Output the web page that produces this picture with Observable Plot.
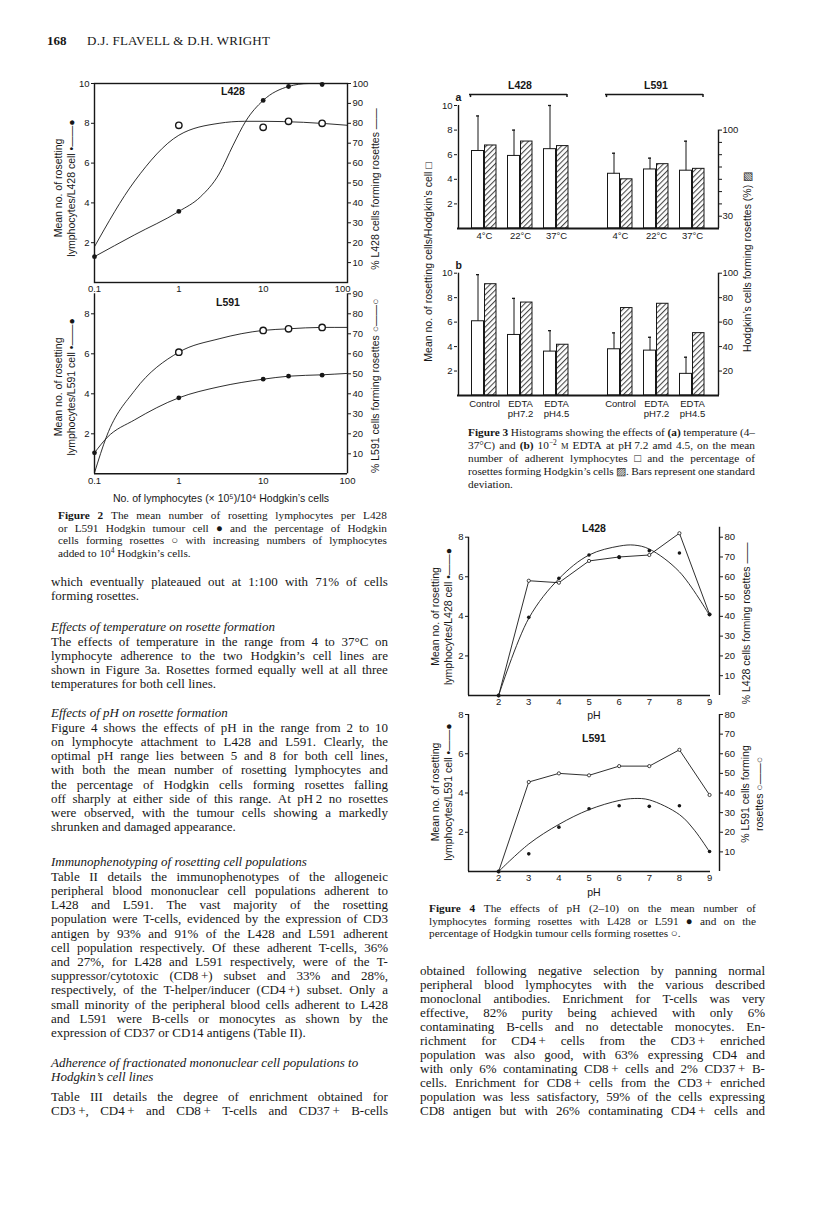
<!DOCTYPE html>
<html>
<head>
<meta charset="utf-8">
<script src="https://cdn.jsdelivr.net/npm/d3@7"></script>
<script src="https://cdn.jsdelivr.net/npm/@observablehq/plot@0.6"></script>
<style>
  html, body { margin: 0; padding: 0; background: #fff; }
  #page { position: relative; width: 816px; height: 1207px; overflow: hidden; background: #fff;
          font-family: "Liberation Serif", "Times New Roman", serif; color: #171717; }
  #page sup { font-size: 0.66em; line-height: 0; vertical-align: 0.5em; }
  #page small { font-size: 0.75em; }
</style>
</head>
<body>
<div id="page"></div>
<script>
// ================= DATA =================
// Figure 2 – lymphocytes (x10^5) per 10^4 Hodgkin's cells, log axis
const fig2XDomain = [0.1, 100];
const fig2XTicks = [0.1, 1, 10, 100];
const fig2MeanX = [0.1, 1, 10, 20, 50];
const fig2PctX = [1, 10, 20, 50];
// L428
const fig2L428Mean = [1.3, 3.57, 9.15, 9.85, 9.95];
const fig2L428Pct = [79, 78, 81, 80];
const fig2L428MeanFitX = [0.1, 0.3, 1, 1.8, 3, 4.4, 6.2, 10, 20, 35, 100];
const fig2L428MeanFit  = [1.3, 2.4, 3.57, 4.3, 5.45, 6.9, 8.1, 9.15, 9.85, 10, 10];
const fig2L428PctFitX = [0.1, 0.3, 1, 3, 6, 10, 30, 100];
const fig2L428PctFit  = [18, 51, 74, 80, 81, 81, 80.5, 79];
// L591
const fig2L591Mean = [1.05, 3.8, 4.73, 4.88, 4.93];
const fig2L591Pct = [60.8, 71.7, 72.5, 73.2];
const fig2L591MeanFitX = [0.1, 0.14, 0.3, 1, 3, 10, 20, 50, 100];
const fig2L591MeanFit  = [1.05, 1.8, 2.7, 3.8, 4.35, 4.73, 4.88, 4.95, 5.02];
const fig2L591PctFitX = [0.1, 0.14, 0.3, 1, 3, 10, 20, 50, 100];
const fig2L591PctFit  = [0.5, 19, 41.7, 60.8, 67.5, 71.7, 72.5, 73.2, 73.2];

// Figure 3 – histograms
const fig3Lines = ["L428", "L591"];
const fig3aConds = ["4°C", "22°C", "37°C"];
const fig3aMean = [6.3, 5.9, 6.45, 4.45, 4.8, 4.7];
const fig3aSD   = [2.85, 2.1, 3.55, 1.67, 0.92, 2.4];
const fig3aPct  = [87.5, 90.7, 87, 60, 72.3, 68.5];
const fig3bConds = ["Control", "EDTA pH7.2", "EDTA pH4.5"];
const fig3bMean = [6.07, 4.95, 3.59, 3.78, 3.67, 1.77];
const fig3bSD   = [3.81, 2.99, 1.71, 1.34, 1.09, 1.36];
const fig3bPct  = [91, 76, 41.5, 71.5, 75, 51];

// Figure 4 – pH
const fig4XDomain = [1, 9.33];
const fig4pH = [2, 3, 4, 5, 6, 7, 8, 9];
const fig4L428Mean = [0, 3.95, 5.92, 7.1, 6.98, 7.32, 7.2, 4.09];
const fig4L428Pct  = [0, 58, 57, 68, 70, 71, 82, 41];
const fig4L428FitpH = [2, 3, 4, 5, 6, 6.5, 7, 8, 9];
const fig4L428Fit   = [0, 3.9, 5.9, 7.1, 7.55, 7.6, 7.4, 6.25, 4.05];
const fig4L591Mean = [0, 0.9, 2.26, 3.2, 3.35, 3.32, 3.35, 1.02];
const fig4L591Pct  = [0, 45.6, 50, 49, 53.7, 53.7, 62, 39];
const fig4L591FitpH = [2, 3, 4, 5, 6, 6.5, 7, 8, 8.5, 9];
const fig4L591Fit   = [0, 1.4, 2.4, 3.15, 3.62, 3.72, 3.65, 2.9, 2.1, 1.0];

// ================= HELPERS =================
const INK = "#171717";
const SANS = "'Liberation Sans', Arial, Helvetica, sans-serif";
const plotStyle = {fontFamily: SANS, fontSize: "9.5px", color: INK, background: "transparent", overflow: "visible"};
const page = document.getElementById("page");
const zip = (xs, ys) => xs.map((x, i) => ({x, y: ys[i]}));
const MID = {textAnchor: "middle", lineAnchor: "middle"};

function place(svg, left, top) {
  const d = document.createElement("div");
  d.style.cssText = `position:absolute;left:${left}px;top:${top}px;width:${svg.getAttribute("width")}px;`;
  d.appendChild(svg);
  page.appendChild(d);
}
function addHatch(svg, id) {
  const defs = document.createElementNS("http://www.w3.org/2000/svg", "defs");
  defs.innerHTML = `<pattern id="${id}" patternUnits="userSpaceOnUse" width="3.8" height="3.8" patternTransform="rotate(45)"><rect width="3.8" height="3.8" fill="#fff"/><line x1="0.6" y1="0" x2="0.6" y2="3.8" stroke="${INK}" stroke-width="0.85"/></pattern>`;
  svg.insertBefore(defs, svg.firstChild);
}
function line(x, yc, w, fs, html, justify, extra = "") {
  const d = document.createElement("div");
  const lh = fs * 1.2;
  d.style.cssText = `position:absolute;left:${x}px;top:${(yc - 0.71 * fs).toFixed(1)}px;width:${w}px;height:${lh}px;line-height:${lh}px;font-size:${fs}px;white-space:nowrap;${extra}`;
  if (justify) {
    d.style.display = "flex";
    d.style.justifyContent = "space-between";
    d.innerHTML = html.split(" ").filter(s => s).map(t => `<span>${t}</span>`).join("");
  } else d.innerHTML = html;
  page.appendChild(d);
}
function block(x, w, fs, spec) { spec.forEach(([y, html, j]) => line(x, y, w, fs, html, j)); }
function vlabel(cx, cy, html, fs) {
  const d = document.createElement("div");
  d.style.cssText = `position:absolute;left:${cx}px;top:${cy}px;transform:translate(-50%,-50%) rotate(-90deg);white-space:nowrap;font-family:${SANS};font-size:${fs}px;line-height:1;color:${INK};`;
  d.innerHTML = html;
  page.appendChild(d);
}

// ================= HEADER =================
line(47, 42, 60, 13, "<b>168</b>", false);
line(87, 42, 260, 13, "D.J. FLAVELL &amp; D.H. WRIGHT", false, "letter-spacing:0.25px;");

// ================= FIGURE 2 =================
const f2a = Plot.plot({
  width: 350, height: 225, marginLeft: 54, marginRight: 43, marginTop: 13, marginBottom: 13,
  style: plotStyle,
  x: {type: "log", domain: fig2XDomain},
  y: {domain: [0, 10]},
  marks: [
    Plot.frame({stroke: INK, strokeWidth: 1.4}),
    Plot.axisY({ticks: [2, 4, 6, 8, 10], tickSize: 3, tickPadding: 2, label: null}),
    Plot.axisY({anchor: "right", ticks: d3.range(1, 11), tickFormat: d => d * 10, tickSize: 3, tickPadding: 2, label: null}),
    Plot.axisX({ticks: fig2XTicks.slice(0, 3), tickFormat: d => String(d), tickSize: 0, tickPadding: 3, label: null}),
    Plot.axisX({ticks: fig2XTicks.slice(3), tickFormat: d => String(d), tickSize: 0, tickPadding: 3, textAnchor: "end", dx: 3, label: null}),
    Plot.line(zip(fig2L428MeanFitX, fig2L428MeanFit), {x: "x", y: "y", curve: "monotone-x", stroke: INK, strokeWidth: 0.9}),
    Plot.line(zip(fig2L428PctFitX, fig2L428PctFit), {x: "x", y: d => d.y / 10, curve: "monotone-x", stroke: INK, strokeWidth: 0.9}),
    Plot.dot(zip(fig2MeanX, fig2L428Mean), {x: "x", y: "y", r: 2.4, fill: INK}),
    Plot.dot(zip(fig2PctX, fig2L428Pct), {x: "x", y: d => d.y / 10, r: 3.2, fill: "white", stroke: INK, strokeWidth: 1.4}),
    Plot.text(["L428"], {...MID, frameAnchor: "top", dx: 12, dy: 8, fontSize: 10.5, fontWeight: "bold"}),
    Plot.text(["Mean no. of rosetting\nlymphocytes/L428 cell •——●"], {...MID, frameAnchor: "left", rotate: -90, dx: -30, dy: 5, fontSize: 10.5, lineHeight: 1.2}),
    Plot.text(["% L428 cells forming rosettes ——"], {...MID, frameAnchor: "right", rotate: -90, dx: 28, dy: 6, fontSize: 10.5})
  ]
});
place(f2a, 40, 70);

const f2b = Plot.plot({
  width: 350, height: 230, marginLeft: 54, marginRight: 43, marginTop: 8.3, marginBottom: 41.7,
  style: plotStyle,
  x: {type: "log", domain: fig2XDomain},
  y: {domain: [0, 9]},
  marks: [
    Plot.ruleX(fig2XDomain, {stroke: INK, strokeWidth: 1.4}),
    Plot.ruleY([0], {stroke: INK, strokeWidth: 1.4}),
    Plot.axisY({ticks: [2, 4, 6, 8], tickSize: 3, tickPadding: 2, label: null}),
    Plot.axisY({anchor: "right", ticks: d3.range(1, 10), tickFormat: d => d * 10, tickSize: 3, tickPadding: 2, label: null}),
    Plot.axisX({ticks: fig2XTicks, tickFormat: d => String(d), tickSize: 0, tickPadding: 3, label: null}),
    Plot.line(zip(fig2L591MeanFitX, fig2L591MeanFit), {x: "x", y: "y", curve: "monotone-x", stroke: INK, strokeWidth: 0.9}),
    Plot.line(zip(fig2L591PctFitX, fig2L591PctFit), {x: "x", y: d => d.y / 10, curve: "monotone-x", stroke: INK, strokeWidth: 0.9}),
    Plot.dot(zip(fig2MeanX, fig2L591Mean), {x: "x", y: "y", r: 2.4, fill: INK}),
    Plot.dot(zip(fig2PctX, fig2L591Pct), {x: "x", y: d => d.y / 10, r: 3.2, fill: "white", stroke: INK, strokeWidth: 1.4}),
    Plot.text(["L591"], {...MID, frameAnchor: "top", dx: 7, dy: 9, fontSize: 10.5, fontWeight: "bold"}),
    Plot.text(["No. of lymphocytes (× 10⁵)/10⁴ Hodgkin’s cells"], {...MID, frameAnchor: "bottom", dy: 25, fontSize: 10.5}),
    Plot.text(["Mean no. of rosetting\nlymphocytes/L591 cell •——●"], {...MID, frameAnchor: "left", rotate: -90, dx: -30, dy: 3, fontSize: 10.5, lineHeight: 1.2}),
    Plot.text(["% L591 cells forming rosettes ○——○"], {...MID, frameAnchor: "right", rotate: -90, dx: 28, dy: 2, fontSize: 10.5})
  ]
});
place(f2b, 40, 285);

block(58, 329, 11.3, [
  [517, "<b>Figure</b> <b>2</b> The mean number of rosetting lymphocytes per L428", true],
  [529.5, "or L591 Hodgkin tumour cell ● and the percentage of Hodgkin", true],
  [542, "cells forming rosettes ○ with increasing numbers of lymphocytes", true],
  [554.5, "added to 10<sup>4</sup> Hodgkin’s cells.", false]
]);

// ================= FIGURE 3 =================
function rowsOf(conds, mean, sd, pct) {
  return fig3Lines.flatMap((ln, li) => conds.map((cond, ci) => {
    const i = li * conds.length + ci;
    return {line: ln, cond, mean: mean[i], sd: sd[i], pct: pct[i]};
  }));
}
function fig3Panel(o) {
  const rows = rowsOf(o.conds, o.mean, o.sd, o.pct);
  const svg = Plot.plot({
    width: 350, height: o.height, marginLeft: 46, marginRight: 41, marginTop: o.mt, marginBottom: o.mb,
    style: plotStyle,
    fx: {domain: fig3Lines, paddingInner: 0.08, paddingOuter: 0, axis: null, label: null},
    x: {domain: o.conds, paddingInner: 0, paddingOuter: 0.2},
    y: {domain: [0, 10]},
    marks: [
      Plot.barY(rows, {fx: "line", x: "cond", y: "mean", fill: "white", stroke: INK, strokeWidth: 1, insetLeft: 5.5, insetRight: 18.5}),
      Plot.barY(rows, {fx: "line", x: "cond", y: d => o.pctToY(d.pct), fill: `url(#${o.hatch})`, stroke: INK, strokeWidth: 1, insetLeft: 18.5, insetRight: 6}),
      Plot.ruleX(rows, {fx: "line", x: "cond", y1: "mean", y2: d => d.mean + d.sd, dx: -6.5, stroke: INK, strokeWidth: 1}),
      Plot.tickY(rows, {fx: "line", x: "cond", y: d => d.mean + d.sd, insetLeft: 10, insetRight: 23, stroke: INK, strokeWidth: 1.3}),
      Plot.ruleY([{line: "L428"}], {fx: "line", y: () => 0, insetRight: -137, stroke: INK, strokeWidth: 1.8}),
      Plot.ruleX([{line: "L428", cond: o.conds[0]}], {fx: "line", x: "cond", y1: () => 0, y2: () => 10, dx: -26, stroke: INK, strokeWidth: 1.4}),
      Plot.ruleX([{line: "L591", cond: o.conds[2]}], {fx: "line", x: "cond", y1: () => 0, y2: () => o.rightTop, dx: 26, stroke: INK, strokeWidth: 1.4}),
      Plot.axisY({ticks: [2, 4, 6, 8, 10], tickSize: 3, tickPadding: 2, label: null}),
      Plot.axisY({anchor: "right", ticks: o.rightTicks, tickFormat: o.rightFormat, tickSize: 3, tickPadding: 1, label: null}),
      Plot.axisX({tickSize: 0, tickPadding: o.tickPad, tickFormat: d => d.replace(" ", "\n"), label: null, lineHeight: 1.05}),
      Plot.text([{line: "L428"}], {fx: "line", text: () => o.letter, frameAnchor: "top-left", textAnchor: "start", lineAnchor: "middle", dy: o.letterDy, dx: -2, fontSize: 10.5, fontWeight: "bold"}),
      ...o.extra(o.conds)
    ]
  });
  addHatch(svg, o.hatch);
  return svg;
}
const bracketRows = conds => fig3Lines.flatMap(l => [{line: l, cond: conds[0], off: -14}, {line: l, cond: conds[2], off: 10.5}]);
const f3a = fig3Panel({
  conds: fig3aConds, mean: fig3aMean, sd: fig3aSD, pct: fig3aPct,
  pctToY: p => (p - 20) / 10, rightTicks: d3.range(1, 9), rightFormat: d => d === 1 ? "30" : d === 8 ? "100" : "",
  rightTop: 8, height: 180, mt: 35, mb: 22, tickPad: 3, letter: "a", letterDy: -7.5, hatch: "hatchA",
  extra: conds => [
    Plot.text(fig3Lines, {...MID, fx: d => d, text: d => d, frameAnchor: "top", dy: -20, fontSize: 10.5, fontWeight: "bold"}),
    Plot.ruleY(fig3Lines, {fx: d => d, y: () => 10, dy: -11, insetLeft: 12, insetRight: 15, stroke: INK, strokeWidth: 1.7}),
    Plot.ruleX(bracketRows(conds).filter(d => d.off < 0), {fx: "line", x: "cond", y1: () => 10, y2: () => 9.75, dy: -11, dx: -14, stroke: INK, strokeWidth: 1.5}),
    Plot.ruleX(bracketRows(conds).filter(d => d.off > 0), {fx: "line", x: "cond", y1: () => 10, y2: () => 9.75, dy: -11, dx: 10.5, stroke: INK, strokeWidth: 1.5})
  ]
});
place(f3a, 410, 70);
const f3b = fig3Panel({
  conds: fig3bConds, mean: fig3bMean, sd: fig3bSD, pct: fig3bPct,
  pctToY: p => p / 10, rightTicks: [2, 4, 6, 8, 10], rightFormat: d => d * 10,
  rightTop: 10, height: 180, mt: 22.7, mb: 35, tickPad: 4, letter: "b", letterDy: -7.7, hatch: "hatchB",
  extra: () => []
});
place(f3b, 410, 250);

vlabel(428, 262, "Mean no. of rosetting cells/Hodgkin’s cell □", 10.5);
vlabel(747, 262, "Hodgkin’s cells forming rosettes (%) ▨", 10.5);

block(468, 287, 11.3, [
  [434, "<b>Figure</b> <b>3</b> Histograms showing the effects of <b>(a)</b> temperature (4–", true],
  [447, "37°C) and <b>(b)</b> 10<sup>−2</sup> <small>M</small> EDTA at pH&#8201;7.2 amd 4.5, on the mean", true],
  [460, "number of adherent lymphocytes □ and the percentage of", true],
  [473, "rosettes forming Hodgkin’s cells ▨. Bars represent one standard", true],
  [486, "deviation.", false]
]);

// ================= FIGURE 4 =================
function fig4Panel(o) {
  return Plot.plot({
    width: 350, height: o.height, marginLeft: 58, marginRight: 41, marginTop: o.mt, marginBottom: o.mb,
    style: plotStyle,
    x: {domain: fig4XDomain},
    y: {domain: o.yDomain},
    marks: [
      Plot.ruleX([fig4XDomain[0]], {y1: () => 0, y2: () => 8, stroke: INK, strokeWidth: 1.4}),
      Plot.ruleX([fig4XDomain[1]], {y1: () => 0, y2: () => o.yDomain[1], stroke: INK, strokeWidth: 1.4}),
      Plot.ruleY([0], {insetRight: 9, stroke: INK, strokeWidth: 1.4}),
      Plot.axisY({ticks: [2, 4, 6, 8], tickSize: 3, tickPadding: 2, label: null}),
      Plot.axisY({anchor: "right", ticks: d3.range(1, 9), tickFormat: d => d * 10, tickSize: 3, tickPadding: 2, label: null}),
      Plot.axisX({ticks: fig4pH, tickSize: 0, tickPadding: 3, label: null}),
      Plot.line(zip(o.fitX, o.fit), {x: "x", y: "y", curve: "catmull-rom", stroke: INK, strokeWidth: 0.9}),
      Plot.line(zip(fig4pH, o.pct), {x: "x", y: d => d.y / 10, stroke: INK, strokeWidth: 0.9}),
      Plot.dot(zip(fig4pH, o.pct), {x: "x", y: d => d.y / 10, r: 1.6, fill: "white", stroke: INK, strokeWidth: 0.8}),
      Plot.dot(zip(fig4pH, o.mean), {x: "x", y: "y", r: 1.8, fill: INK}),
      Plot.text([o.title], {...MID, frameAnchor: "top", dy: o.titleDy, fontSize: 10.5, fontWeight: "bold"}),
      Plot.text(["pH"], {...MID, frameAnchor: "bottom", dy: o.phDy, fontSize: 10.5}),
      Plot.text([o.leftLabel], {...MID, frameAnchor: "left", rotate: -90, dx: -27, dy: o.leftDy, fontSize: 10.5, lineHeight: 1.2}),
      Plot.text([o.rightLabel], {...MID, frameAnchor: "right", rotate: -90, dx: o.rightDx, dy: o.rightDy, fontSize: 10.5, lineHeight: 1.3})
    ]
  });
}
const f4a = fig4Panel({
  height: 215, mt: 21.8, mb: 25, yDomain: [0, 8.5],
  mean: fig4L428Mean, pct: fig4L428Pct, fitX: fig4L428FitpH, fit: fig4L428Fit,
  title: "L428", titleDy: 1.5, phDy: 20,
  leftLabel: "Mean no. of rosetting\nlymphocytes/L428 cell •——●", leftDy: 5,
  rightLabel: "% L428 cells forming rosettes ——", rightDx: 26, rightDy: 12
});
place(f4a, 410, 505);
const f4b = fig4Panel({
  height: 210, mt: 14, mb: 39, yDomain: [0, 8],
  mean: fig4L591Mean, pct: fig4L591Pct, fitX: fig4L591FitpH, fit: fig4L591Fit,
  title: "L591", titleDy: 24, phDy: 21,
  leftLabel: "Mean no. of rosetting\nlymphocytes/L591 cell •——●", leftDy: -1,
  rightLabel: "% L591 cells forming\nrosettes ○——○", rightDx: 32, rightDy: 1
});
place(f4b, 410, 700);

block(429, 327, 11.3, [
  [910, "<b>Figure</b> <b>4</b> The effects of pH (2–10) on the mean number of", true],
  [922.5, "lymphocytes forming rosettes with L428 or L591 ● and on the", true],
  [935, "percentage of Hodgkin tumour cells forming rosettes ○.", false]
]);

// ================= BODY TEXT =================
const L = 51, LW = 337, FS = 13;
block(L, LW, FS, [
  [583, "which eventually plateaued out at 1:100 with 71% of cells", true],
  [597, "forming rosettes.", false],
  [628, "<i>Effects of temperature on rosette formation</i>", false],
  [643, "The effects of temperature in the range from 4 to 37°C on", true],
  [657, "lymphocyte adherence to the two Hodgkin’s cell lines are", true],
  [671, "shown in Figure 3a. Rosettes formed equally well at all three", true],
  [685, "temperatures for both cell lines.", false],
  [714, "<i>Effects of pH on rosette formation</i>", false],
  [729, "Figure 4 shows the effects of pH in the range from 2 to 10", true],
  [743.2, "on lymphocyte attachment to L428 and L591. Clearly, the", true],
  [757.4, "optimal pH range lies between 5 and 8 for both cell lines,", true],
  [771.6, "with both the mean number of rosetting lymphocytes and", true],
  [785.8, "the percentage of Hodgkin cells forming rosettes falling", true],
  [800, "off sharply at either side of this range. At pH&#8201;2 no rosettes", true],
  [814.2, "were observed, with the tumour cells showing a markedly", true],
  [828.4, "shrunken and damaged appearance.", false],
  [863, "<i>Immunophenotyping of rosetting cell populations</i>", false],
  [878, "Table II details the immunophenotypes of the allogeneic", true],
  [892.2, "peripheral blood mononuclear cell populations adherent to", true],
  [906.4, "L428 and L591. The vast majority of the rosetting", true],
  [920.6, "population were T-cells, evidenced by the expression of CD3", true],
  [934.8, "antigen by 93% and 91% of the L428 and L591 adherent", true],
  [949, "cell population respectively. Of these adherent T-cells, 36%", true],
  [963.2, "and 27%, for L428 and L591 respectively, were of the T-", true],
  [977.4, "suppressor/cytotoxic (CD8&#8201;+) subset and 33% and 28%,", true],
  [991.6, "respectively, of the T-helper/inducer (CD4&#8201;+) subset. Only a", true],
  [1005.8, "small minority of the peripheral blood cells adherent to L428", true],
  [1020, "and L591 were B-cells or monocytes as shown by the", true],
  [1034.2, "expression of CD37 or CD14 antigens (Table II).", false],
  [1064, "<i>Adherence of fractionated mononuclear cell populations to</i>", false],
  [1078, "<i>Hodgkin’s cell lines</i>", false],
  [1098, "Table III details the degree of enrichment obtained for", true],
  [1112, "CD3&#8201;+, CD4&#8201;+ and CD8&#8201;+ T-cells and CD37&#8201;+ B-cells", true]
]);
block(420, 345, FS, [
  [972, "obtained following negative selection by panning normal", true],
  [986, "peripheral blood lymphocytes with the various described", true],
  [1000, "monoclonal antibodies. Enrichment for T-cells was very", true],
  [1014, "effective, 82% purity being achieved with only 6%", true],
  [1028, "contaminating B-cells and no detectable monocytes. En-", true],
  [1042, "richment for CD4&#8201;+ cells from the CD3&#8201;+ enriched", true],
  [1056, "population was also good, with 63% expressing CD4 and", true],
  [1070, "with only 6% contaminating CD8&#8201;+ cells and 2% CD37&#8201;+ B-", true],
  [1084, "cells. Enrichment for CD8&#8201;+ cells from the CD3&#8201;+ enriched", true],
  [1098, "population was less satisfactory, 59% of the cells expressing", true],
  [1112, "CD8 antigen but with 26% contaminating CD4&#8201;+ cells and", true]
]);
</script>
</body>
</html>
